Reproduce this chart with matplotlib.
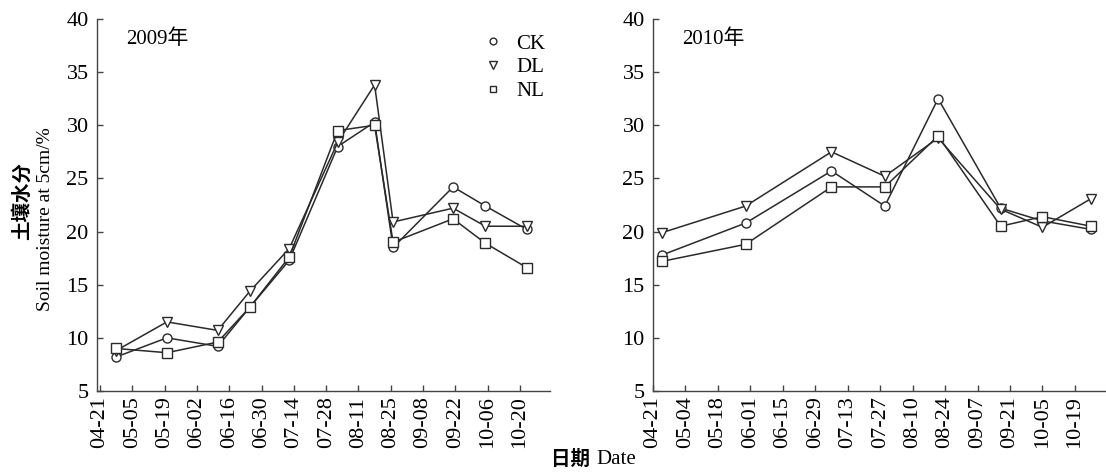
import numpy as np
import matplotlib
matplotlib.use('Agg')
import matplotlib.pyplot as plt

plt.rcParams['font.family'] = ['Liberation Serif', 'Noto Sans CJK SC']

# sampling dates and soil moisture (%) at 5 cm
dates_2009 = ['2009-04-28', '2009-05-20', '2009-06-11', '2009-06-25', '2009-07-12',
              '2009-08-02', '2009-08-18', '2009-08-26', '2009-09-21', '2009-10-05',
              '2009-10-23']
ck_2009 = [8.2, 10.0, 9.2, 12.9, 17.3, 28.0, 30.3, 18.5, 24.2, 22.4, 20.2]
dl_2009 = [8.8, 11.5, 10.7, 14.4, 18.4, 28.4, 33.8, 20.9, 22.2, 20.5, 20.5]
nl_2009 = [9.0, 8.6, 9.6, 12.9, 17.6, 29.5, 30.0, 19.0, 21.2, 18.9, 16.6]

dates_2010 = ['2010-04-25', '2010-05-31', '2010-07-07', '2010-07-30', '2010-08-22',
              '2010-09-18', '2010-10-06', '2010-10-27']
ck_2010 = [17.8, 20.8, 25.7, 22.4, 32.5, 22.2, 21.0, 20.2]
dl_2010 = [19.9, 22.4, 27.5, 25.2, 28.8, 22.1, 20.4, 23.1]
nl_2010 = [17.2, 18.8, 24.2, 24.2, 29.0, 20.5, 21.4, 20.5]

ticks_2009 = ['04-21', '05-05', '05-19', '06-02', '06-16', '06-30', '07-14',
              '07-28', '08-11', '08-25', '09-08', '09-22', '10-06', '10-20']
ticks_2010 = ['04-21', '05-04', '05-18', '06-01', '06-15', '06-29', '07-13',
              '07-27', '08-10', '08-24', '09-07', '09-21', '10-05', '10-19']

line_col = '#2a2a2a'


def day_offset(dates, start):
    return (np.array(dates, dtype='datetime64[D]') - np.datetime64(start)).astype(int)


def draw_panel(ax, days, ck, dl, nl, tick_labels, title, x0):
    style = dict(color=line_col, lw=1.1, mfc='white', mec=line_col, mew=1.0)
    ax.plot(days, ck, marker='o', ms=6.5, label='CK', **style)
    ax.plot(days, dl, marker='v', ms=7.5, label='DL', **style)
    ax.plot(days, nl, marker='s', ms=6.5, label='NL', **style)

    ax.set_ylim(5, 40)
    ax.set_yticks(np.arange(5, 41, 5))
    ax.set_xlim(x0, 195)
    ax.set_xticks(np.arange(len(tick_labels)) * 14)
    ax.set_xticklabels(tick_labels, rotation=90)

    for side in ['top', 'right']:
        ax.spines[side].set_visible(False)
    for side in ['left', 'bottom']:
        ax.spines[side].set_color('#444444')
        ax.spines[side].set_linewidth(1.0)
    ax.tick_params(direction='in', length=4, width=1, color='#444444',
                   labelsize=16)
    ax.tick_params(axis='y', pad=6)
    ax.tick_params(axis='x', pad=4)
    ax.text(0.065, 0.945, title, transform=ax.transAxes, fontsize=15,
            ha='left', va='center')


fig = plt.figure(figsize=(11.06, 4.73), dpi=100)
ax1 = fig.add_axes([0.0877, 0.1734, 0.4096, 0.7865])
ax2 = fig.add_axes([0.5904, 0.1734, 0.4087, 0.7865])

draw_panel(ax1, day_offset(dates_2009, '2009-04-21'), ck_2009, dl_2009, nl_2009,
           ticks_2009, '2009年', -1.3)
draw_panel(ax2, day_offset(dates_2010, '2010-04-21'), ck_2010, dl_2010, nl_2010,
           ticks_2010, '2010年', 0)

leg = ax1.legend(loc='upper left', bbox_to_anchor=(0.82, 1.01), frameon=False,
                 fontsize=15, handlelength=0.6, handletextpad=0.8,
                 labelspacing=0.2, markerscale=0.75)
for h in leg.legend_handles:
    h.set_linestyle('none')

fig.text(0.02, 0.575, '土壤水分', rotation=90, ha='center', va='center',
         fontsize=14, fontweight='bold', family=['Noto Sans CJK SC'])
fig.text(0.041, 0.537, 'Soil moisture at 5cm/%', rotation=90, ha='center',
         va='center', fontsize=14)
fig.text(0.516, 0.028, '日期', ha='center', va='center', fontsize=14,
         fontweight='bold', family=['Noto Sans CJK SC'])
fig.text(0.539, 0.028, 'Date', ha='left', va='center', fontsize=15)

fig.savefig('out.png', dpi=100)
